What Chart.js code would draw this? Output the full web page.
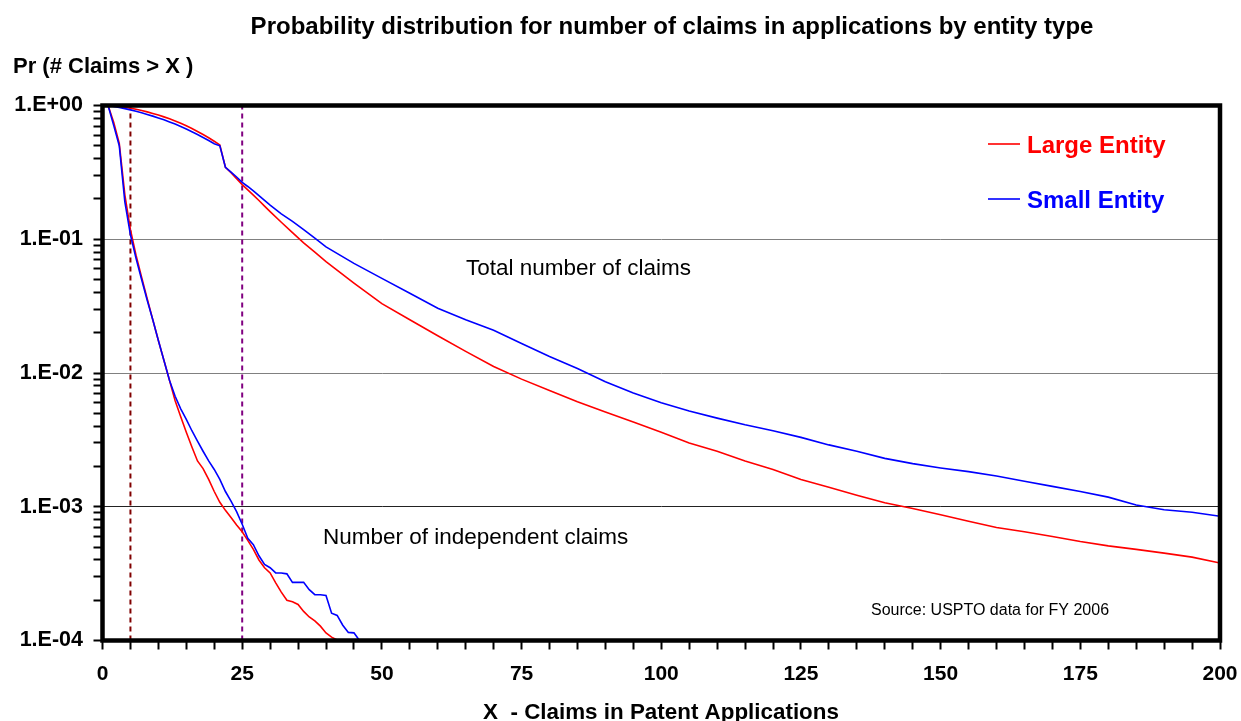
<!DOCTYPE html>
<html><head><meta charset="utf-8">
<script src="https://cdn.jsdelivr.net/npm/chart.js@4.4.0/dist/chart.umd.min.js"></script>
<style>html,body{margin:0;padding:0;background:#fff;}#wrap{width:1241px;height:721px;position:relative;}</style>
</head><body><div id="wrap"><canvas id="c" width="1241" height="721"></canvas></div>
<script>
// ---- data ----
const totalX = [1,2,3,4,5,6,7,8,9,10,11,12,13,14,15,16,17,18,19,20,21,22,23,24,25,26,27,28,29,30,32,34,36,38,40,45,50,55,60,65,70,75,80,85,90,95,100,105,110,115,120,125,130,135,140,145,150,155,160,165,170,175,180,185,190,195,200];
const totalLarge = [1.0,0.995,0.985,0.972,0.956,0.938,0.918,0.896,0.872,0.848,0.822,0.795,0.767,0.737,0.705,0.673,0.64,0.607,0.574,0.54,0.507,0.345,0.315,0.284,0.256,0.234,0.214,0.195,0.177,0.161,0.134,0.112,0.094,0.08,0.068,0.047,0.033,0.025,0.019,0.0145,0.0112,0.009,0.0074,0.0061,0.0051,0.0043,0.0036,0.003,0.0026,0.0022,0.0019,0.0016,0.0014,0.00122,0.00107,0.00097,0.00087,0.00078,0.0007,0.00065,0.0006,0.00055,0.00051,0.00048,0.00045,0.00042,0.00038];
const totalSmall = [1.0,0.985,0.968,0.948,0.927,0.905,0.882,0.858,0.833,0.807,0.781,0.754,0.726,0.697,0.667,0.637,0.607,0.577,0.547,0.518,0.5,0.345,0.318,0.292,0.266,0.248,0.23,0.212,0.195,0.18,0.155,0.136,0.118,0.102,0.0876,0.066,0.051,0.0395,0.0305,0.025,0.0209,0.0166,0.0133,0.0108,0.0086,0.0071,0.006,0.0052,0.0046,0.0041,0.0037,0.0033,0.0029,0.0026,0.0023,0.0021,0.00195,0.00183,0.0017,0.00155,0.00142,0.0013,0.00118,0.00103,0.00095,0.00091,0.00085];
const indepX = [1,2,3,4,5,6,7,8,9,10,11,12,13,14,15,16,17,18,19,20,21,22,23,24,25,26,27,28,29,30,31,32,33,34,35,36,37,38,39,40,41,42,43,44,45,46];
const indepLarge = [1.0,0.75,0.52,0.215,0.118,0.076,0.052,0.036,0.025,0.0175,0.0124,0.0088,0.0062,0.0047,0.0036,0.0028,0.0022,0.00193,0.0016,0.0013,0.00108,0.00094,0.00083,0.00073,0.00065,0.00056,0.00048,0.0004,0.00035,0.00032,0.00027,0.00023,0.0002,0.000195,0.000186,0.000165,0.00015,0.00014,0.000128,0.000114,0.000106,0.000101,null,null,null,null];
const indepSmall = [1.0,0.71,0.5,0.19,0.108,0.072,0.05,0.035,0.025,0.0175,0.0124,0.0088,0.0067,0.0054,0.0045,0.0037,0.0031,0.0026,0.0022,0.0019,0.0016,0.0013,0.0011,0.00092,0.00074,0.00058,0.00052,0.00043,0.00037,0.00035,0.00032,0.00032,0.000315,0.000272,0.000272,0.000272,0.00024,0.00022,0.00022,0.000217,0.00016,0.000154,0.00013,0.000115,0.000114,0.0001];
const markerX = [5, 25];
const yMajorValues = [1e-4, 1e-3, 1e-2, 1e-1, 1];
const yTickLabels = ['1.E-04','1.E-03','1.E-02','1.E-01','1.E+00'];
const xTickLabels = [0,25,50,75,100,125,150,175,200];
const seriesNames = ['Large Entity','Small Entity'];
// ---- end data ----

const RED = '#FF0000', BLUE = '#0000FF';
const pts = (xs, ys) => xs.map((x, i) => ({x: x, y: ys[i]}));
const FONT = '"Liberation Sans", Arial, sans-serif';

function majorIndex(v) {
  for (let i = 0; i < yMajorValues.length; i++) {
    if (Math.abs(v - yMajorValues[i]) / yMajorValues[i] < 1e-6) return i;
  }
  return -1;
}

const decor = {
  id: 'decor',
  afterDatasetsDraw(chart) {
    const {ctx, chartArea: a} = chart;
    ctx.save();
    ctx.strokeStyle = '#000';
    ctx.lineWidth = 4.5;
    ctx.strokeRect(a.left, a.top, a.right - a.left, a.bottom - a.top);
    ctx.restore();
  },
  afterDraw(chart) {
    const ctx = chart.ctx;
    ctx.save();
    ctx.fillStyle = '#000';
    ctx.textBaseline = 'alphabetic';
    ctx.font = 'bold 24px ' + FONT;
    ctx.textAlign = 'center';
    ctx.fillText('Probability distribution for number of claims in applications by entity type', 672, 34);
    ctx.font = 'bold 22px ' + FONT;
    ctx.textAlign = 'left';
    ctx.fillText('Pr (# Claims > X )', 13, 73);
    ctx.font = 'bold 22.4px ' + FONT;
    ctx.textAlign = 'center';
    ctx.fillText('X  - Claims in Patent Applications', 661, 719);
    // legend
    const leg = [[seriesNames[0], RED, 144, 153], [seriesNames[1], BLUE, 199, 208]];
    ctx.textAlign = 'left';
    ctx.font = 'bold 24px ' + FONT;
    leg.forEach(([t, c, ly, by]) => {
      ctx.strokeStyle = c; ctx.lineWidth = 1.6;
      ctx.beginPath(); ctx.moveTo(988, ly); ctx.lineTo(1020, ly); ctx.stroke();
      ctx.fillStyle = c;
      ctx.fillText(t, 1027, by);
    });
    ctx.fillStyle = '#000';
    ctx.font = '22.5px ' + FONT;
    ctx.fillText('Total number of claims', 466, 275);
    ctx.fillText('Number of independent claims', 323, 544);
    ctx.font = '16px ' + FONT;
    ctx.fillText('Source: USPTO data for FY 2006', 871, 615);
    ctx.restore();
  }
};

const lineDs = (label, data, color, order) => ({
  label, data, borderColor: color, backgroundColor: color, borderWidth: 1.6,
  pointRadius: 0, tension: 0, fill: false, spanGaps: false, order
});

new Chart(document.getElementById('c'), {
  type: 'line',
  data: {
    datasets: [
      lineDs('Large Entity - total', pts(totalX, totalLarge), RED, 2),
      lineDs('Small Entity - total', pts(totalX, totalSmall), BLUE, 1),
      lineDs('Large Entity - independent', pts(indepX, indepLarge), RED, 2),
      lineDs('Small Entity - independent', pts(indepX, indepSmall), BLUE, 1),
      {label: 'X=5', data: [{x: markerX[0], y: 1e-4}, {x: markerX[0], y: 1}], borderColor: '#800000',
       borderWidth: 2, borderDash: [5, 4], pointRadius: 0, order: 5},
      {label: 'X=25', data: [{x: markerX[1], y: 1e-4}, {x: markerX[1], y: 1}], borderColor: '#800080',
       borderWidth: 2, borderDash: [5, 4], pointRadius: 0, order: 5}
    ]
  },
  options: {
    responsive: false,
    animation: false,
    events: [],
    layout: {padding: {left: 0, top: 105.5, right: 21, bottom: 0}},
    plugins: {legend: {display: false}, title: {display: false}, tooltip: {enabled: false}},
    scales: {
      x: {
        type: 'linear', min: 0, max: 200,
        afterFit(s) { s.height = 80.5; s.paddingLeft = 0; s.paddingRight = 0; },
        afterBuildTicks(s) {
          const t = [];
          for (let v = 0; v <= 200; v += 5) t.push({value: v});
          s.ticks = t;
        },
        border: {display: false},
        grid: {drawOnChartArea: false, drawTicks: true, tickLength: 9, tickColor: '#000', tickWidth: 2},
        ticks: {
          autoSkip: false, maxRotation: 0, padding: 12,
          color: '#000', font: {family: FONT, size: 21, weight: 'bold'},
          callback: (v) => xTickLabels.includes(v) ? String(v) : ''
        }
      },
      y: {
        type: 'logarithmic', min: 1e-4, max: 1,
        afterFit(s) { s.width = 102.5; s.paddingTop = 0; s.paddingBottom = 0; },
        afterBuildTicks(s) {
          const t = [];
          for (let e = -4; e < 0; e++) for (let m = 1; m < 10; m++) t.push({value: m * Math.pow(10, e)});
          t.push({value: 1});
          s.ticks = t;
        },
        border: {display: false},
        grid: {
          drawOnChartArea: true, drawTicks: true, tickLength: 9, tickColor: '#000', tickWidth: 2,
          color: (c) => {
            const i = majorIndex(c.tick.value);
            if (i < 0) return 'rgba(0,0,0,0)';
            return i === 1 ? '#222222' : '#808080';
          },
          lineWidth: 1
        },
        ticks: {
          autoSkip: false, padding: 10.5, color: '#000',
          font: {family: FONT, size: 21.5, weight: 'bold'},
          callback: (v) => { const i = majorIndex(v); return i < 0 ? '' : yTickLabels[i]; }
        }
      }
    }
  },
  plugins: [decor]
});
</script>
</body></html>
